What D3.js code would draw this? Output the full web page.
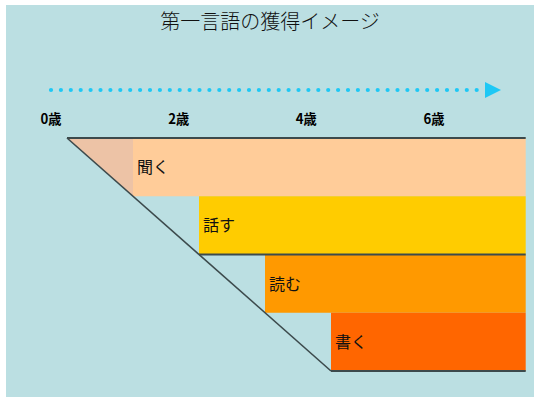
<!DOCTYPE html>
<html>
<head>
<meta charset="utf-8">
<script src="https://cdn.jsdelivr.net/npm/d3@7"></script>
<style>
  body { margin: 0; background: #fff; }
  text { font-family: "Noto Sans CJK JP", sans-serif; }
</style>
</head>
<body>
<div id="chart"></div>
<script>
// data
var skills = ["聞く", "話す", "読む", "書く"];
var startAge = [1, 2, 3, 4];   // age where each skill bar starts
var endAge = 6.95;
var tickAges = [0, 2, 4, 6];
var tickLabels = ["0歳", "2歳", "4歳", "6歳"];
var barColors = ["#FFCC99", "#FFCC00", "#FF9900", "#FF6600"];

var svgWidth = 534, svgHeight = 398;

var svg = d3.select("#chart")
    .append("svg")
    .attr("width", svgWidth)
    .attr("height", svgHeight);

// background panel
svg.append("rect")
    .attr("x", 6).attr("y", 5)
    .attr("width", 528).attr("height", 392)
    .attr("fill", "#BBDFE2");

// title
svg.append("text")
    .attr("x", 270).attr("y", 29)
    .attr("text-anchor", "middle")
    .attr("font-size", 20)
    .attr("font-weight", 300)
    .attr("fill", "#111")
    .text("第一言語の獲得イメージ");

// scales
var x = d3.scaleLinear().domain([0, endAge]).range([67, 67 + 66 * endAge]);
var labelX = d3.scaleLinear().domain([0, 6]).range([51, 434]);
var y = d3.scaleBand().domain(skills).range([138, 371]);

// dotted arrow
svg.append("line")
    .attr("x1", labelX(0)).attr("x2", 482)
    .attr("y1", 90).attr("y2", 90)
    .attr("stroke", "#1EC8F5")
    .attr("stroke-width", 4.2)
    .attr("stroke-linecap", "round")
    .attr("stroke-dasharray", "0,9.9");
svg.append("path")
    .attr("d", "M485,82 L501,90 L485,98 Z")
    .attr("fill", "#1EC8F5");

// age labels
svg.selectAll(".age")
    .data(tickAges)
    .enter()
    .append("text")
    .attr("class", "age")
    .attr("x", d => labelX(d))
    .attr("y", 124)
    .attr("text-anchor", "middle")
    .attr("font-size", 14)
    .attr("font-weight", "bold")
    .attr("fill", "#000")
    .attr("textLength", 21)
    .attr("lengthAdjust", "spacingAndGlyphs")
    .text((d, i) => tickLabels[i]);

// pink triangle left of the first bar
svg.append("path")
    .attr("d", "M" + x(0) + "," + y(skills[0]) +
               " L" + x(startAge[0]) + "," + y(skills[0]) +
               " L" + x(startAge[0]) + "," + (y(skills[0]) + y.bandwidth()) + " Z")
    .attr("fill", "#EDC3A6");

// bars
svg.selectAll(".bar")
    .data(skills)
    .enter()
    .append("rect")
    .attr("class", "bar")
    .attr("x", (d, i) => x(startAge[i]))
    .attr("y", d => y(d))
    .attr("width", (d, i) => x(endAge) - x(startAge[i]))
    .attr("height", y.bandwidth())
    .attr("fill", (d, i) => barColors[i]);

// bar labels
svg.selectAll(".lbl")
    .data(skills)
    .enter()
    .append("text")
    .attr("class", "lbl")
    .attr("x", (d, i) => x(startAge[i]) + 4)
    .attr("y", d => y(d) + y.bandwidth() / 2 + 6)
    .attr("font-size", 16)
    .attr("fill", "#111")
    .text(d => d);

// outline lines
var lineColor = "#3C4A4C";
svg.append("line")
    .attr("x1", x(0)).attr("y1", y(skills[0]))
    .attr("x2", x(startAge[3])).attr("y2", y(skills[3]) + y.bandwidth())
    .attr("stroke", lineColor).attr("stroke-width", 1.6);

var hLines = [
  { from: 0, yy: y(skills[0]) },
  { from: startAge[1], yy: y(skills[1]) + y.bandwidth() },
  { from: startAge[3], yy: y(skills[3]) + y.bandwidth() }
];
svg.selectAll(".hl")
    .data(hLines)
    .enter()
    .append("line")
    .attr("class", "hl")
    .attr("x1", d => x(d.from)).attr("x2", x(endAge))
    .attr("y1", d => d.yy).attr("y2", d => d.yy)
    .attr("stroke", lineColor)
    .attr("stroke-width", 2);
</script>
</body>
</html>
